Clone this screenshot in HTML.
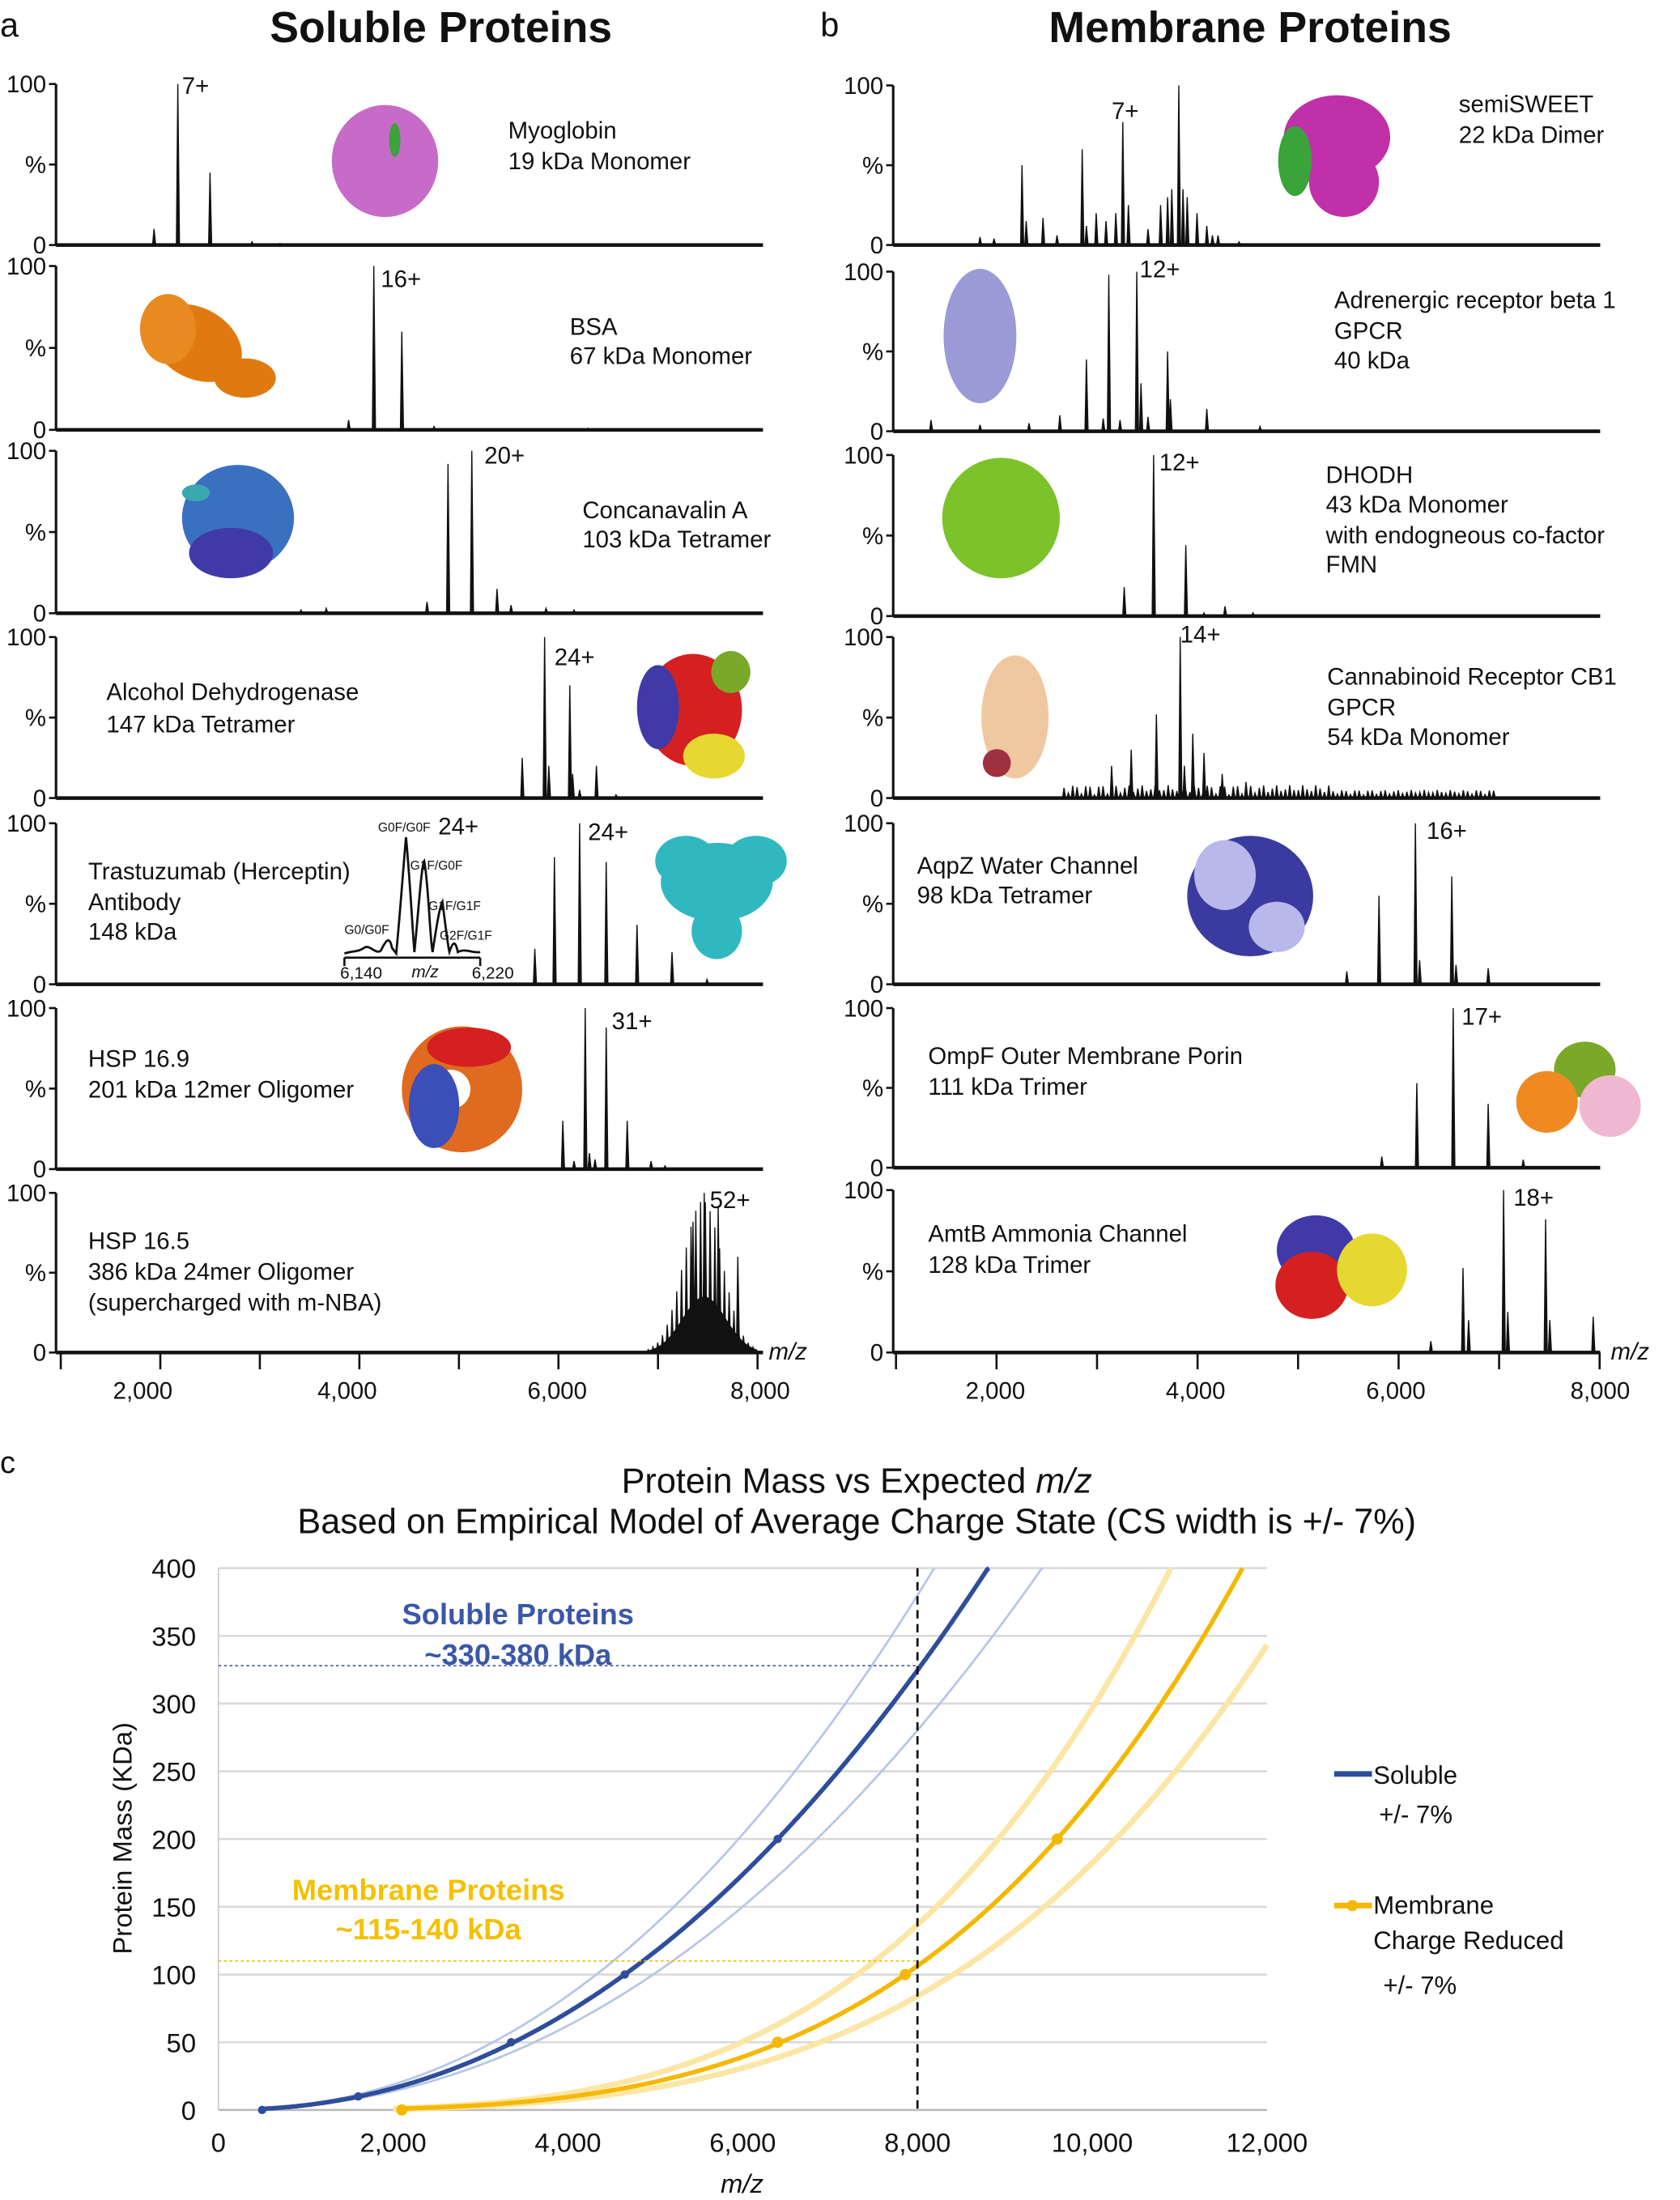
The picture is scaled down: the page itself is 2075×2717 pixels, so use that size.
<!DOCTYPE html>
<html><head><meta charset="utf-8">
<style>
html,body{margin:0;padding:0;background:#fff;}
svg{display:block;}
text{font-family:"Liberation Sans",sans-serif;fill:#111;}
</style></head>
<body>
<svg id="s" xmlns="http://www.w3.org/2000/svg" width="2075" height="2717" viewBox="0 0 1200 1571.3">
<rect width="1200" height="1571.3" fill="#fff"/>
<text x="0" y="26" font-size="24">a</text>
<text x="586" y="26" font-size="24">b</text>
<text x="315" y="30" font-size="31" font-weight="bold" text-anchor="middle">Soluble Proteins</text>
<text x="893" y="30" font-size="31" font-weight="bold" text-anchor="middle">Membrane Proteins</text>
<g id="spec"></g>
<g id="blobs"></g>
<g font-size="17">
<text x="363" y="99">Myoglobin</text><text x="363" y="121">19 kDa Monomer</text>
<text x="407" y="239">BSA</text><text x="407" y="260">67 kDa Monomer</text>
<text x="416" y="370">Concanavalin A</text><text x="416" y="391">103 kDa Tetramer</text>
<text x="76" y="500">Alcohol Dehydrogenase</text><text x="76" y="523">147 kDa Tetramer</text>
<text x="63" y="628">Trastuzumab (Herceptin)</text><text x="63" y="650">Antibody</text><text x="63" y="671">148 kDa</text>
<text x="63" y="762">HSP 16.9</text><text x="63" y="784">201 kDa 12mer Oligomer</text>
<text x="63" y="892">HSP 16.5</text><text x="63" y="914">386 kDa 24mer Oligomer</text><text x="63" y="936">(supercharged with m-NBA)</text>
<text x="130" y="67">7+</text><text x="272" y="205">16+</text><text x="346" y="331">20+</text>
<text x="396" y="475">24+</text><text x="420" y="600">24+</text><text x="313" y="596">24+</text>
<text x="437" y="735">31+</text><text x="507" y="863">52+</text>
<text x="1042" y="80">semiSWEET</text><text x="1042" y="102">22 kDa Dimer</text>
<text x="953" y="220">Adrenergic receptor beta 1</text><text x="953" y="242">GPCR</text><text x="953" y="263">40 kDa</text>
<text x="947" y="345">DHODH</text><text x="947" y="366">43 kDa Monomer</text><text x="947" y="388">with endogneous co-factor</text><text x="947" y="409">FMN</text>
<text x="948" y="489">Cannabinoid Receptor CB1</text><text x="948" y="511">GPCR</text><text x="948" y="532">54 kDa Monomer</text>
<text x="655" y="624">AqpZ Water Channel</text><text x="655" y="645">98 kDa Tetramer</text>
<text x="663" y="760">OmpF Outer Membrane Porin</text><text x="663" y="782">111 kDa Trimer</text>
<text x="663" y="887">AmtB Ammonia Channel</text><text x="663" y="909">128 kDa Trimer</text>
<text x="794" y="85">7+</text><text x="814" y="198">12+</text><text x="828" y="336">12+</text>
<text x="843" y="459">14+</text><text x="1019" y="599">16+</text><text x="1044" y="732">17+</text><text x="1081" y="861">18+</text>
</g>
<!-- inset -->
<g font-size="9">
<text x="270" y="594">G0F/G0F</text><text x="293" y="621">G1F/G0F</text><text x="306" y="650">G1F/G1F</text>
<text x="246" y="667">G0/G0F</text><text x="314" y="671">G2F/G1F</text>
</g>
<g font-size="12"><text x="243" y="699">6,140</text><text x="294" y="698" font-style="italic">m/z</text><text x="337" y="699">6,220</text></g>
<path d="M246,684 V690 M246,684 H343 M343,684 V690" stroke="#111" stroke-width="1.5" fill="none"/>
<path d="M246,681 C252,679 256,680 260,677 C264,674 268,682 272,679 C275,673 278,667 280,677 L283,681 C286,650 288,620 290,598 C293,630 295,670 296,680 C299,650 301,618 303,615 C306,630 307,670 309,680 C312,660 314,648 316,644 C318,660 320,676 321,680 C323,674 325,670 327,680 C332,677 338,681 343,680" stroke="#111" stroke-width="1.6" fill="none"/>
<text x="0" y="1052" font-size="22">c</text>
<text x="612" y="1066" font-size="25" text-anchor="middle">Protein Mass vs Expected <tspan font-style="italic">m/z</tspan></text>
<text x="612" y="1095" font-size="25" text-anchor="middle">Based on Empirical Model of Average Charge State (CS width is +/- 7%)</text>
<g id="cgrid"></g>
<text transform="translate(94,1313) rotate(-90)" font-size="19" text-anchor="middle">Protein Mass (KDa)</text>
<text x="530" y="1566" font-size="19" font-style="italic" text-anchor="middle">m/z</text>
<text x="370" y="1160" font-size="21" font-weight="bold" text-anchor="middle" style="fill:#3b57a7">Soluble Proteins</text>
<text x="370" y="1189" font-size="21" font-weight="bold" text-anchor="middle" style="fill:#3b57a7">~330-380 kDa</text>
<text x="306" y="1357" font-size="21" font-weight="bold" text-anchor="middle" style="fill:#f5c000">Membrane Proteins</text>
<text x="306" y="1385" font-size="21" font-weight="bold" text-anchor="middle" style="fill:#f5c000">~115-140 kDa</text>
<line x1="953" y1="1267" x2="980" y2="1267" stroke="#2e4d9a" stroke-width="4"/>
<text x="981" y="1274" font-size="18">Soluble</text>
<text x="985" y="1302" font-size="18">+/- 7%</text>
<line x1="953" y1="1361" x2="980" y2="1361" stroke="#f5b800" stroke-width="4"/>
<circle cx="966" cy="1361" r="4" fill="#f5b800"/>
<text x="981" y="1367" font-size="18">Membrane</text>
<text x="981" y="1392" font-size="18">Charge Reduced</text>
<text x="988" y="1424" font-size="18">+/- 7%</text>
</svg>
<script>
var NS="http://www.w3.org/2000/svg";
function el(t,a,p){var e=document.createElementNS(NS,t);for(var k in a)e.setAttribute(k,a[k]);(p||document.getElementById('s')).appendChild(e);return e;}
var spec=document.getElementById('spec');
function panel(ax,top,base,right,peaks){
  var h=base-top;
  el('line',{x1:ax,y1:top,x2:ax,y2:base,stroke:'#111','stroke-width':1.8},spec);
  el('line',{x1:ax,y1:base,x2:right,y2:base,stroke:'#111','stroke-width':2.6},spec);
  [[top,'100'],[(top+base)/2,'%'],[base,'0']].forEach(function(t){
    el('line',{x1:ax-5,y1:t[0],x2:ax,y2:t[0],stroke:'#111','stroke-width':1.5},spec);
    var tx=el('text',{x:ax-7,y:t[0]+6,'font-size':17,'text-anchor':'end'},spec);tx.textContent=t[1];
  });
  var d='';
  peaks.forEach(function(p){d+='M'+(p[0]-1)+','+base+'L'+p[0]+','+(base-p[1]*h)+'L'+(p[0]+1.2)+','+base+'Z';});
  el('path',{d:d,fill:'#111',stroke:'#111','stroke-width':0.8},spec);
}
var A=40,B=638;
panel(A,60,175,545,[[110,.1],[127,1],[150,.45],[180,.02],[200,.01]]);
panel(A,190,307,545,[[249,.06],[267,1],[287,.6],[310,.02],[420,.01]]);
panel(A,322,438,545,[[215,.02],[233,.03],[305,.07],[320,.92],[337,1],[355,.15],[365,.05],[390,.03],[410,.02]]);
panel(A,455,570,545,[[373,.25],[389,1],[392,.2],[407,.7],[409,.15],[414,.05],[426,.2],[440,.02]]);
panel(A,588,703,545,[[382,.22],[396,.79],[414,1],[433,.76],[455,.37],[480,.2],[505,.03]]);
panel(A,720,835,545,[[402,.3],[418,1],[421,.1],[433,.88],[448,.3],[465,.05],[475,.02],[410,.05],[425,.06]]);
(function(){var pk=[];for(var x=463;x<541;x+=3.4){var g=Math.exp(-Math.pow((x-503)/20,2));var v=g*(0.6+0.4*Math.abs(Math.sin(x*0.9)));pk.push([x,v]);}
pk.push([503,1]);pk.push([513,.92]);pk.push([495,.82]);pk.push([527,.6]);panel(A,852,966,545,pk);
var d='M462,966';for(var x=462;x<=541;x+=1){var g=Math.exp(-Math.pow((x-503)/22,2))*0.35;d+='L'+x+','+(966-g*114);}d+='L541,966Z';el('path',{d:d,fill:'#111'},spec);})();
panel(B,61,175,1143,[[700,.05],[710,.04],[730,.5],[733,.15],[745,.17],[755,.06],[773,.6],[776,.12],[783,.2],[790,.15],[797,.2],[802,.77],[806,.25],[820,.1],[829,.25],[834,.3],[837,.35],[842,1],[845,.35],[848,.3],[855,.2],[862,.12],[866,.06],[870,.06],[885,.02]]);
panel(B,194,308,1143,[[665,.07],[700,.04],[735,.05],[757,.1],[776,.45],[788,.08],[792,.98],[800,.07],[812,1],[815,.3],[820,.09],[834,.5],[836,.2],[862,.14],[900,.03]]);
panel(B,325,440,1143,[[803,.18],[824,1],[847,.44],[860,.02],[875,.06],[895,.02]]);
(function(){var pk=[[794,.2],[808,.3],[826,.52],[843,1],[846,.2],[852,.4],[860,.28],[873,.15],[890,.1]];for(var x=760;x<1070;x+=3.1){pk.push([x,0.02+0.06*Math.abs(Math.sin(x*1.7))*(x<950?1:0.5)]);}panel(B,455,570,1143,pk);})();
panel(B,588,703,1143,[[962,.08],[985,.55],[1011,1],[1014,.15],[1037,.67],[1040,.12],[1063,.1]]);
panel(B,720,834,1143,[[987,.07],[1012,.53],[1038,1],[1063,.4],[1088,.05]]);
panel(B,850,966,1143,[[1022,.07],[1045,.52],[1049,.2],[1074,1],[1077,.25],[1104,.82],[1107,.2],[1138,.22]]);
function xaxis(x0,dx,base,labs,lx){
  for(var i=0;i<8;i++){var x=x0+i*dx;el('line',{x1:x,y1:base,x2:x,y2:base+12,stroke:'#111','stroke-width':1.5},spec);}
  labs.forEach(function(l,i){var t=el('text',{x:lx[i],y:base+33,'font-size':17,'text-anchor':'middle'},spec);t.textContent=l;});
  var m=el('text',{x:x0+7*dx+8,y:base+5,'font-size':17,'font-style':'italic'},spec);m.textContent='m/z';
}
xaxis(43.4,71.1,966,['2,000','4,000','6,000','8,000'],[102,248,398,543]);
xaxis(640,71.8,966,['2,000','4,000','6,000','8,000'],[711,854,997,1143]);
var bl=document.getElementById('blobs');
function blob(cx,cy,rx,ry,c,rot){el('ellipse',{cx:cx,cy:cy,rx:rx,ry:ry,fill:c,transform:'rotate('+(rot||0)+' '+cx+' '+cy+')'},bl);}
blob(275,115,38,40,'#c66bc7');blob(282,100,4,12,'#3aa33a');
blob(140,245,35,25,'#e07a10',30);blob(120,235,20,25,'#e88a20');blob(175,270,22,14,'#e07a10');
blob(170,370,40,38,'#3a70c0');blob(165,395,30,18,'#3f3aa8');blob(140,352,10,6,'#3aa8b0');
blob(495,507,35,40,'#d42020');blob(470,505,15,30,'#3f3aa8');blob(522,480,14,15,'#7aa828');blob(510,540,22,16,'#e6d830');
blob(512,630,40,28,'#30b8c0',0);blob(490,615,22,18,'#30b8c0');blob(540,615,22,18,'#30b8c0');blob(512,665,18,20,'#30b8c0');
blob(330,778,43,45,'#e06a20');el('circle',{cx:322,cy:778,r:14,fill:'#fff'},bl);blob(310,790,18,30,'#3a4fb8');blob(335,748,30,14,'#d42020');
blob(955,98,38,30,'#c030a8');blob(925,115,12,25,'#3aa33a');blob(960,130,25,25,'#c030a8');
blob(700,240,26,48,'#9a9ad6');
blob(715,370,42,43,'#7cc22a');
blob(725,512,24,44,'#f0c8a0');blob(712,545,10,10,'#a03040');
blob(893,640,45,43,'#3a3aa0');blob(875,625,22,25,'#b8b8ea');blob(912,662,20,18,'#b8b8ea');
blob(1132,764,22,20,'#7aa828');blob(1105,787,22,22,'#f08a20');blob(1150,790,22,22,'#f0b8d0');
blob(940,893,28,25,'#3f3aa8');blob(937,918,26,24,'#d42020');blob(980,907,25,26,'#e6d830');
var g=document.getElementById('cgrid');
function X(m){return 156+m/12000*749;} function Y(M){return 1507-M*0.9675;}
for(var v=0;v<=400;v+=50){el('line',{x1:156,y1:Y(v),x2:905,y2:Y(v),stroke:v==0?'#bbb':'#d9d9d9','stroke-width':1.5},g);
 var t=el('text',{x:140,y:Y(v)+7,'font-size':19,'text-anchor':'end'},g);t.textContent=v;}
el('line',{x1:156,y1:1120,x2:156,y2:1507,stroke:'#ccc','stroke-width':1},g);
for(var m=0;m<=12000;m+=2000){var t=el('text',{x:X(m),y:1537,'font-size':19,'text-anchor':'middle'},g);t.textContent=m==0?'0':(m/1000)+',000';}
function curve(f,x0,col,w){var d='',first=true;for(var x=x0;x<=12;x+=0.02){var M=f(x);if(M>400){M=400;}d+=(first?'M':'L')+X(x*1000).toFixed(1)+','+Y(M).toFixed(1);first=false;if(M>=400)break;}el('path',{d:d,fill:'none',stroke:col,'stroke-width':w},g);}
function S(x){return 100*Math.pow(x/4.65,2.17);} function Mb(x){return 100*Math.pow(x/7.86,3.47);}
curve(function(x){return Mb(x/0.93)},2.0,'#fce6a6',4);
curve(function(x){return Mb(x/1.07)},2.0,'#fce6a6',4);
curve(Mb,2.1,'#f5b800',3.2);
curve(function(x){return S(x/0.93)},0.5,'#b8c6e6',1.6);
curve(function(x){return S(x/1.07)},0.5,'#b8c6e6',1.6);
curve(S,0.5,'#2e4d9a',3.2);
[[500,0],[1600,10],[3350,50],[4650,100],[6400,200]].forEach(function(p){el('circle',{cx:X(p[0]),cy:Y(p[1]),r:3,fill:'#2e4d9a'},g);});
[[2100,0],[6400,50],[7860,100],[9600,200]].forEach(function(p){el('circle',{cx:X(p[0]),cy:Y(p[1]),r:4,fill:'#f5b800'},g);});
el('line',{x1:156,y1:Y(328),x2:655,y2:Y(328),stroke:'#4a62a8','stroke-width':1,'stroke-dasharray':'2,2'},g);
el('line',{x1:156,y1:Y(110),x2:655,y2:Y(110),stroke:'#f5c000','stroke-width':1,'stroke-dasharray':'2,2'},g);
el('line',{x1:X(8000),y1:1120,x2:X(8000),y2:1507,stroke:'#111','stroke-width':1.6,'stroke-dasharray':'6,4'},g);
</script>
</body></html>
